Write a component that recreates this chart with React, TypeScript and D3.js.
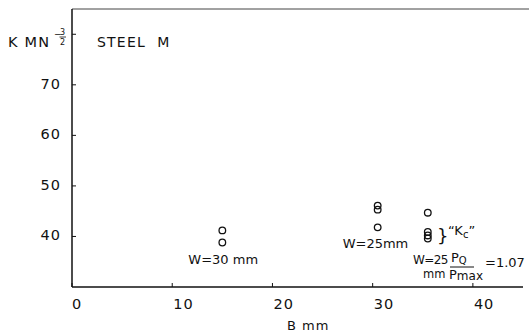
import React from 'react';
import * as d3 from 'd3';

// K values (MN m^-3/2), grouped by specimen
const thickness = [15, 15, 30.5, 30.5, 30.5, 35.5, 35.5, 35.5, 35.5];
const kValues = [41.2, 38.8, 46.1, 45.3, 41.8, 44.7, 40.9, 40.2, 39.6];
const xTicks = [0, 10, 20, 30, 40];
const yTicks = [40, 50, 60, 70, 80];
const yLabels = ['40', '50', '60', '70', ''];

const width = 529;
const height = 332;
const font = "'DejaVu Sans', sans-serif";

const App = () => {
  const x = d3.scaleLinear().domain([0, 45]).range([72, 523]);
  const y = d3.scaleLinear().domain([30, 85]).range([287, 9]);
  const points = thickness.map((b, i) => ({ b, k: kValues[i] }));

  return (
    <svg
      width={width}
      height={height}
      style={{ position: 'absolute', left: 0, top: 0, background: '#fff' }}
      fontFamily={font}
    >
      {/* frame */}
      <line x1={x(0)} x2={width} y1={y(85)} y2={y(85)} stroke="#444" strokeWidth={1} />
      <line x1={x(0)} x2={x(0)} y1={y(85)} y2={y(30)} stroke="#111" strokeWidth={1.5} />
      <line x1={x(0)} x2={x(45)} y1={y(30)} y2={y(30)} stroke="#111" strokeWidth={1.5} />

      {/* y ticks */}
      {yTicks.map((t, i) => (
        <g key={'y' + t}>
          <line x1={x(0)} x2={x(0) + 4} y1={y(t)} y2={y(t)} stroke="#111" strokeWidth={1} />
          <text x={61} y={y(t) + 4} textAnchor="end" fontSize={14.5} letterSpacing={1} fill="#111">
            {yLabels[i]}
          </text>
        </g>
      ))}

      {/* x ticks */}
      {xTicks.map((t) => (
        <g key={'x' + t}>
          <line x1={x(t)} x2={x(t)} y1={y(30)} y2={y(30) - 4} stroke="#111" strokeWidth={1} />
          <text x={x(t) + (t === 0 ? 0 : 1)} y={309} textAnchor="start" fontSize={14.5} letterSpacing={1} fill="#111">
            {t}
          </text>
        </g>
      ))}

      <text x={287} y={330} fontSize={13} letterSpacing={1} fill="#111">B mm</text>

      {/* y unit label */}
      <text x={8} y={47} fontSize={14.5} letterSpacing={1.2} fill="#111">K MN</text>
      <text x={54} y={37} fontSize={9} fill="#111">−</text>
      <text x={60} y={35} fontSize={8} fill="#111">3</text>
      <line x1={59.5} x2={66} y1={37} y2={37} stroke="#111" strokeWidth={0.8} />
      <text x={60} y={45} fontSize={8} fill="#111">2</text>

      <text x={97} y={47} fontSize={14} letterSpacing={1.2} fill="#111" style={{ whiteSpace: 'pre' }}>
        {'STEEL  M'}
      </text>

      {/* data */}
      {points.map((p, i) => (
        <circle key={i} cx={x(p.b)} cy={y(p.k)} r={3.3} fill="none" stroke="#111" strokeWidth={1.3} />
      ))}

      {/* annotations */}
      <text x={x(15) - 34} y={264} fontSize={13} fill="#111">W=30 mm</text>
      <text x={x(30.5) - 35} y={248} fontSize={13} fill="#111">W=25mm</text>
      <text x={437} y={242} fontSize={18} fill="#111">{'}'}</text>
      <text x={448} y={235} fontSize={13} fill="#111">
        “K<tspan fontSize={10} dy={3}>c</tspan><tspan dy={-3}>”</tspan>
      </text>
      <text x={413} y={264} fontSize={12} letterSpacing={-0.6} fill="#111">W=25</text>
      <text x={423} y={278} fontSize={11.5} fill="#111">mm</text>
      <text x={451} y={262} fontSize={13} fill="#111">
        P<tspan fontSize={10} dy={2}>Q</tspan>
      </text>
      <line x1={450} x2={474} y1={267} y2={267} stroke="#111" strokeWidth={1} />
      <text x={449} y={279} fontSize={13} fill="#111">
        P<tspan fontSize={12} dy={1}>max</tspan>
      </text>
      <text x={485} y={267} fontSize={13} fill="#111">=1.07</text>
    </svg>
  );
};

export default App;
